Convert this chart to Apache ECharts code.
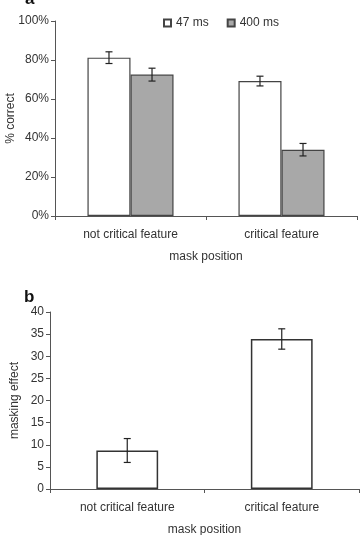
<!DOCTYPE html>
<html>
<head>
<meta charset="utf-8">
<script src="https://cdn.jsdelivr.net/npm/echarts@6/dist/echarts.min.js"></script>
<style>
  html, body { margin: 0; padding: 0; background: #fff; }
  #main { width: 361px; height: 535px; }
</style>
</head>
<body>
<div id="main"></div>
<script>
// panel a
var categories = ['not critical feature', 'critical feature']
var short47 = [81.2, 69.2]
var short47Err = [3.0, 2.5]
var long400 = [72.5, 34.0]
var long400Err = [3.3, 3.2]
var pctTicks = [0, 20, 40, 60, 80, 100]

// panel b
var maskEffect = [8.7, 33.9]
var maskEffectErr = [2.7, 2.3]

var axisColor = '#555'
var textColor = '#333'
var font = 'Liberation Sans, Arial, sans-serif'

// error bar drawn with custom series, offset to each bar of the group
function errorBar(barIndex, barCount) {
  return function (params, api) {
    var x = api.value(0)
    var hi = api.coord([x, api.value(1)])
    var lo = api.coord([x, api.value(2)])
    var size = api.size([1, 0])[0]
    var offset = 0
    if (barCount === 2) {
      var bw = size * 0.285
      offset = barIndex === 0 ? -bw / 2 : bw / 2
    }
    var cx = hi[0] + offset
    var cap = 3.5
    var style = { stroke: '#222', lineWidth: 1.2 }
    return {
      type: 'group',
      children: [
        { type: 'line', shape: { x1: cx, y1: hi[1], x2: cx, y2: lo[1] }, style: style },
        { type: 'line', shape: { x1: cx - cap, y1: hi[1], x2: cx + cap, y2: hi[1] }, style: style },
        { type: 'line', shape: { x1: cx - cap, y1: lo[1], x2: cx + cap, y2: lo[1] }, style: style }
      ]
    }
  }
}

function errData(vals, errs) {
  return vals.map(function (v, i) {
    return [i, v + errs[i], v - errs[i]]
  })
}

var xAxisCommon = {
  type: 'category',
  data: categories,
  axisLine: { lineStyle: { color: axisColor, width: 1 } },
  axisTick: { show: true, length: 4, lineStyle: { color: axisColor } },
  axisLabel: { color: textColor, fontSize: 12, fontFamily: font, margin: 13 },
  name: 'mask position',
  nameLocation: 'middle',
  nameGap: 35,
  nameMoveOverlap: false,
  nameTextStyle: { color: textColor, fontSize: 12, fontFamily: font }
}

var yAxisCommon = {
  type: 'value',
  axisLine: { show: true, lineStyle: { color: axisColor, width: 1 } },
  axisTick: { show: true, length: 4, lineStyle: { color: axisColor } },
  splitLine: { show: false },
  nameLocation: 'middle',
  nameMoveOverlap: false,
  nameTextStyle: { color: textColor, fontSize: 12, fontFamily: font }
}

var chart = echarts.init(document.getElementById('main'))

var option = {
  animation: false,
  backgroundColor: '#fff',
  title: [
    { text: 'a', left: 20, top: -14, textStyle: { fontSize: 17, fontWeight: 'bold', color: '#111', fontFamily: font } },
    { text: 'b', left: 19, top: 284, textStyle: { fontSize: 17, fontWeight: 'bold', color: '#111', fontFamily: font } }
  ],
  legend: {
    top: 17,
    left: 163,
    padding: 0,
    itemWidth: 7,
    itemHeight: 7,
    itemGap: 18,
    icon: 'rect',
    textStyle: { color: textColor, fontSize: 12, fontFamily: font, padding: [0, 0, 0, 0] },
    data: ['47 ms', '400 ms']
  },
  grid: [
    { left: 55, top: 21, width: 302, height: 195, outerBoundsMode: 'none', containLabel: false },
    { left: 50, top: 312, width: 309, height: 177, outerBoundsMode: 'none', containLabel: false }
  ],
  xAxis: [
    Object.assign({}, xAxisCommon, { gridIndex: 0 }),
    Object.assign({}, xAxisCommon, { gridIndex: 1 })
  ],
  yAxis: [
    Object.assign({}, yAxisCommon, {
      gridIndex: 0, min: 0, max: 100, interval: 20,
      name: '% correct', nameGap: 38,
      axisLabel: { color: textColor, fontSize: 12, fontFamily: font, margin: 6,
        formatter: function (v) { return pctTicks.indexOf(v) >= 0 ? v + '%' : '' } }
    }),
    Object.assign({}, yAxisCommon, {
      gridIndex: 1, min: 0, max: 40, interval: 5,
      name: 'masking effect', nameGap: 29,
      axisLabel: { color: textColor, fontSize: 12, fontFamily: font, margin: 6 }
    })
  ],
  series: [
    {
      name: '47 ms', type: 'bar', xAxisIndex: 0, yAxisIndex: 0,
      data: short47, barWidth: '28.5%', barGap: '0%',
      itemStyle: { color: '#fff', borderColor: '#444', borderWidth: 1.2 }
    },
    {
      name: '400 ms', type: 'bar', xAxisIndex: 0, yAxisIndex: 0,
      data: long400, barWidth: '28.5%', barGap: '0%',
      itemStyle: { color: '#a8a8a8', borderColor: '#444', borderWidth: 1.2 }
    },
    {
      type: 'custom', xAxisIndex: 0, yAxisIndex: 0, z: 5,
      renderItem: errorBar(0, 2), data: errData(short47, short47Err)
    },
    {
      type: 'custom', xAxisIndex: 0, yAxisIndex: 0, z: 5,
      renderItem: errorBar(1, 2), data: errData(long400, long400Err)
    },
    {
      name: 'masking', type: 'bar', xAxisIndex: 1, yAxisIndex: 1,
      data: maskEffect, barWidth: '40%',
      itemStyle: { color: '#fff', borderColor: '#333', borderWidth: 1.5 }
    },
    {
      type: 'custom', xAxisIndex: 1, yAxisIndex: 1, z: 5,
      renderItem: errorBar(0, 1), data: errData(maskEffect, maskEffectErr)
    }
  ]
}

chart.setOption(option)
</script>
</body>
</html>
